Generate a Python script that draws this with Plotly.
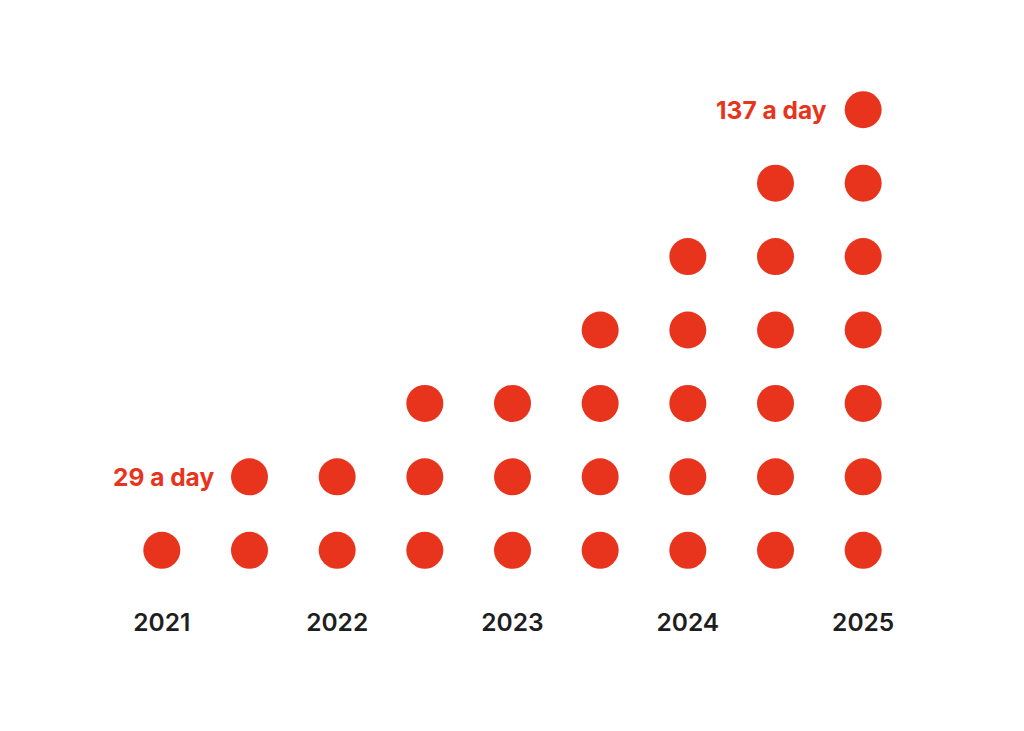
import plotly.graph_objects as go

# dots per half-year period
periods = ["H1 2021", "H2 2021", "H1 2022", "H2 2022", "H1 2023",
           "H2 2023", "H1 2024", "H2 2024", "H1 2025"]
dot_counts = [1, 2, 2, 3, 3, 4, 5, 6, 7]
year_ticks = [0, 2, 4, 6, 8]
year_labels = ["2021", "2022", "2023", "2024", "2025"]
callouts = {1: "29 a day", 8: "137 a day"}

RED = "#E8341C"
INK = "#1e1e1e"

xs, ys = [], []
for i, n in enumerate(dot_counts):
    for k in range(1, n + 1):
        xs.append(i)
        ys.append(k)

fig = go.Figure(go.Scatter(
    x=xs, y=ys, mode="markers",
    marker=dict(size=37, color=RED, line=dict(width=0)),
    hoverinfo="skip",
))

for i, txt in callouts.items():
    fig.add_annotation(
        x=i, y=dot_counts[i], text=txt, showarrow=False,
        xanchor="right", yanchor="middle", xshift=-34,
        font=dict(family="Inter", size=24.5, color=RED, weight=700),
    )

fig.update_layout(
    width=1024, height=731,
    margin=dict(l=110, r=125, t=65, b=152),
    paper_bgcolor="white", plot_bgcolor="white",
    showlegend=False,
    xaxis=dict(range=[-0.5, 8.5], tickvals=year_ticks, ticktext=year_labels,
               showgrid=False, zeroline=False, showline=False, ticks="",
               ticklabelstandoff=18,
               tickfont=dict(family="Inter", size=24.5, color=INK, weight=600),
               fixedrange=True),
    yaxis=dict(range=[0.5, 7.5], visible=False, fixedrange=True),
)

fig.write_html("out.html")
